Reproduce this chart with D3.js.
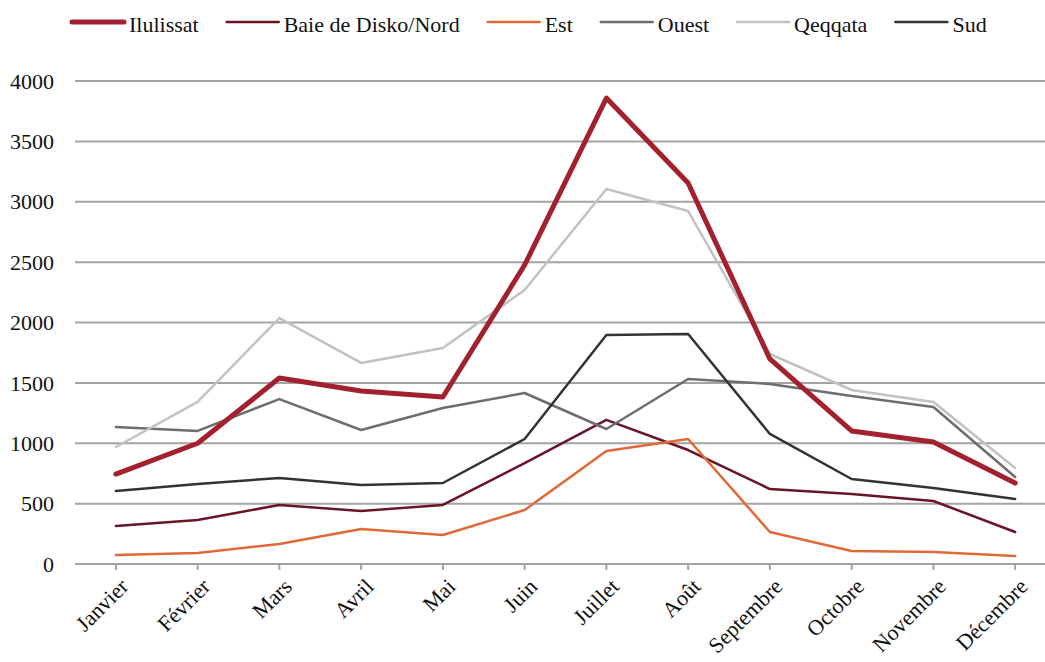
<!DOCTYPE html>
<html>
<head>
<meta charset="utf-8">
<script src="https://cdn.jsdelivr.net/npm/d3@7"></script>
<style>
  body { margin: 0; background: #fff; }
</style>
</head>
<body>
<div id="chart"></div>
<script>
const months = ["Janvier", "Février", "Mars", "Avril", "Mai", "Juin", "Juillet", "Août",
                "Septembre", "Octobre", "Novembre", "Décembre"];

const ilulissat = [745, 1000, 1540, 1433, 1383, 2476, 3859, 3155, 1698, 1102, 1010, 670];
const baieDisko = [315, 364, 489, 439, 489, 836, 1193, 944, 621, 580, 522, 265];
const est       = [75, 91, 166, 290, 240, 447, 936, 1035, 265, 108, 99, 66];
const ouest     = [1135, 1102, 1366, 1110, 1292, 1416, 1118, 1532, 1491, 1391, 1300, 720];
const qeqqata   = [969, 1342, 2037, 1665, 1789, 2269, 3106, 2923, 1739, 1441, 1342, 795];
const sud       = [605, 663, 712, 654, 671, 1035, 1896, 1905, 1077, 704, 629, 538];

const yTicks = [0, 500, 1000, 1500, 2000, 2500, 3000, 3500, 4000];

const series = [
  {name: "Ilulissat", values: ilulissat, color: "#a3202f", width: 5},
  {name: "Baie de Disko/Nord", values: baieDisko, color: "#6b1428", width: 2.5},
  {name: "Est", values: est, color: "#e0693a", width: 2.5},
  {name: "Ouest", values: ouest, color: "#6e6e6e", width: 2.5},
  {name: "Qeqqata", values: qeqqata, color: "#c2c2c2", width: 2.5},
  {name: "Sud", values: sud, color: "#333333", width: 2.5}
];

const FONT = "Liberation Serif";

const W = 1045, H = 662;
const margin = {top: 81, right: 0, bottom: 98, left: 75};
const width = W - margin.left - margin.right,
      height = H - margin.top - margin.bottom;

const svg = d3.select("#chart").append("svg")
  .attr("width", W)
  .attr("height", H);

const g = svg.append("g")
  .attr("transform", `translate(${margin.left},${margin.top})`);

const x = d3.scalePoint().domain(months).range([0, 981]).padding(0.5);
const y = d3.scaleLinear().domain([0, 4000]).range([height, 0]);

// gridlines
g.selectAll(".grid").data(yTicks).enter().append("line")
  .attr("x1", 0).attr("x2", width)
  .attr("y1", d => y(d)).attr("y2", d => y(d))
  .attr("stroke", "#a3a3a3")
  .attr("stroke-width", 2);

// y labels
g.selectAll(".ylab").data(yTicks).enter().append("text")
  .attr("x", -21)
  .attr("y", d => y(d))
  .attr("dy", "0.35em")
  .attr("text-anchor", "end")
  .attr("font-family", FONT)
  .attr("font-size", 22)
  .attr("fill", "#111")
  .text(d => d);

// x ticks
g.selectAll(".xtick").data(months).enter().append("line")
  .attr("x1", d => x(d)).attr("x2", d => x(d))
  .attr("y1", height).attr("y2", height + 6)
  .attr("stroke", "#a3a3a3")
  .attr("stroke-width", 2);

g.selectAll(".xlab").data(months).enter().append("text")
  .attr("transform", d => `translate(${x(d) + 3},${height + 13}) rotate(-45)`)
  .attr("text-anchor", "end")
  .attr("dy", "0.7em")
  .attr("font-family", FONT)
  .attr("font-size", 22)
  .attr("fill", "#111")
  .text(d => d);

// lines
const line = d3.line()
  .x((d, i) => x(months[i]))
  .y(d => y(d));

const draw = series.slice(1).concat(series.slice(0, 1));
g.selectAll(".serie").data(draw).enter().append("path")
  .attr("fill", "none")
  .attr("stroke", d => d.color)
  .attr("stroke-width", d => d.width)
  .attr("stroke-linejoin", "round")
  .attr("stroke-linecap", "round")
  .attr("d", d => line(d.values));

// legend
const legend = svg.append("g").attr("transform", "translate(72,25)");
let lx = 0;
series.forEach(s => {
  const item = legend.append("g").attr("transform", `translate(${lx},0)`);
  item.append("line")
    .attr("x1", 0).attr("x2", 52)
    .attr("y1", -3).attr("y2", -3)
    .attr("stroke", s.color)
    .attr("stroke-width", s.width)
    .attr("stroke-linecap", "round");
  const t = item.append("text")
    .attr("x", 57)
    .attr("y", 0)
    .attr("dy", "0.32em")
    .attr("font-family", FONT)
    .attr("font-size", 22)
    .attr("fill", "#111")
    .text(s.name);
  lx += 57 + t.node().getComputedTextLength() + 28;
});
</script>
</body>
</html>
